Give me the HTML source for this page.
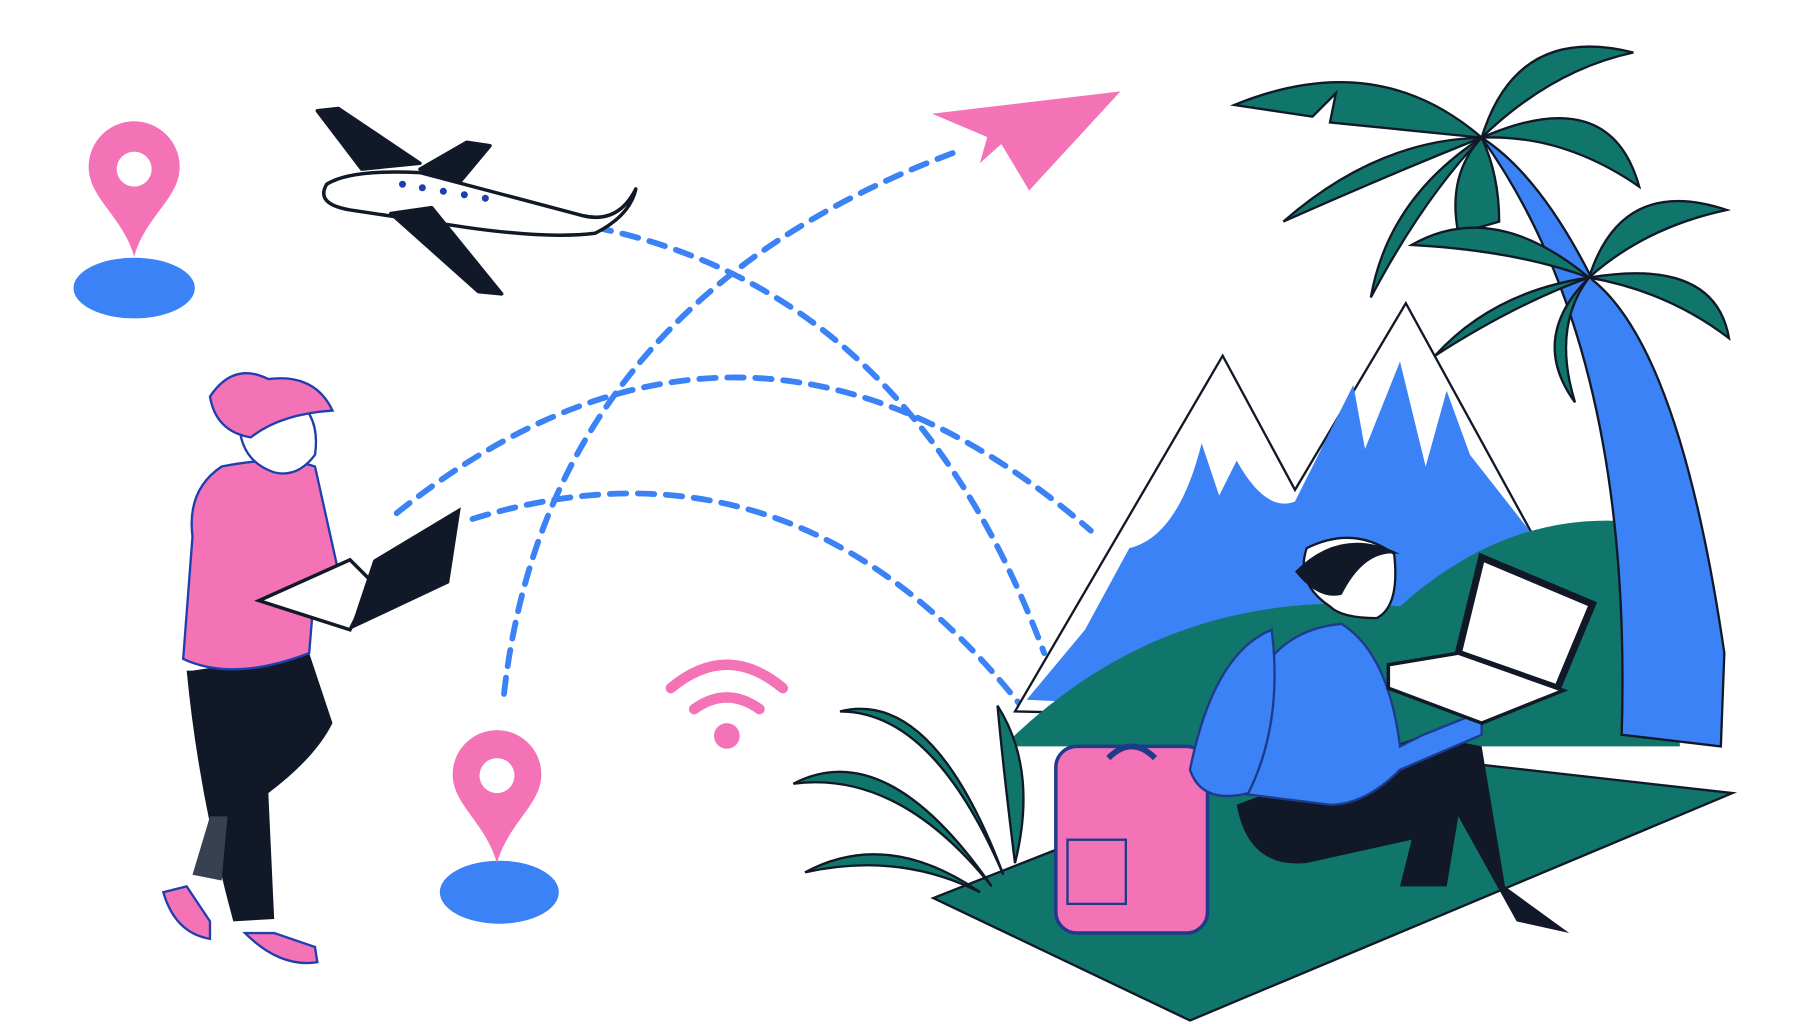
<!DOCTYPE html>
<html><head><meta charset="utf-8"><style>
html,body{margin:0;padding:0;background:#fff;width:1820px;height:1024px;overflow:hidden}
svg{display:block}
</style></head><body>
<svg width="1820" height="1024" viewBox="0 0 1560 878" preserveAspectRatio="none" xmlns="http://www.w3.org/2000/svg">
<g fill="none" stroke="#3b82f6" stroke-width="5" stroke-dasharray="14 10" stroke-linecap="round">
<path d="M510 195 Q780 250 895 560"/>
<path d="M432 595 Q470 260 820 130"/>
<path d="M340 440 Q640 200 935 455"/>
<path d="M405 445 Q680 360 875 605"/>
</g>
<!-- pins -->
<ellipse cx="115" cy="247" rx="52" ry="26" fill="#3b82f6"/>
<path d="M115 220 C105 185 76 170 76 143 A39 39 0 0 1 154 143 C154 170 125 185 115 220Z" fill="#f472b6"/>
<circle cx="115" cy="145" r="15" fill="#fff"/>
<ellipse cx="428" cy="765" rx="51" ry="27" fill="#3b82f6"/>
<path d="M426 740 C416 705 388 690 388 664 A38 38 0 0 1 464 664 C464 690 436 705 426 740Z" fill="#f472b6"/>
<circle cx="426" cy="665" r="15" fill="#fff"/>
<!-- wifi -->
<g fill="none" stroke="#f472b6" stroke-width="9" stroke-linecap="round">
<path d="M575 590 Q623 550 671 590"/><path d="M595 608 Q623 588 651 608"/>
</g>
<circle cx="623" cy="631" r="11" fill="#f472b6"/>
<!-- paper plane -->
<polygon points="795,97 963,77 882,165 858,125 838,143 845,118" fill="#f472b6" stroke="#fff" stroke-width="2"/>
<!-- airplane -->
<g stroke="#111827" stroke-width="3" stroke-linejoin="round">
<polygon points="272,95 290,93 360,140 310,145" fill="#111827"/>
<polygon points="360,145 400,122 420,125 395,155" fill="#111827"/>
<path d="M280 158 Q300 145 360 148 L500 185 Q530 192 545 162 Q540 185 510 200 Q470 205 400 195 L300 180 Q270 175 280 158Z" fill="#fff"/>
<polygon points="335,183 370,178 430,252 410,250" fill="#111827"/>
</g>
<g fill="#1e40af"><circle cx="345" cy="158" r="3"/><circle cx="362" cy="161" r="3"/><circle cx="380" cy="164" r="3"/><circle cx="398" cy="167" r="3"/><circle cx="416" cy="170" r="3"/></g>
<!-- mountains -->
<path d="M870 610 L1048 305 L1110 420 L1205 260 L1320 470 L1320 620Z" fill="#fff" stroke="#111827" stroke-width="2"/>
<path d="M880 600 L930 540 L968 470 Q1010 460 1030 380 L1045 425 L1060 395 Q1085 440 1110 430 L1160 330 L1170 385 L1200 310 L1222 400 L1240 335 L1260 390 L1315 460 L1320 620Z" fill="#3b82f6"/>
<!-- ground -->
<path d="M860 640 Q1000 500 1200 520 Q1300 430 1420 450 L1440 640Z" fill="#10766b"/>
<polygon points="800,770 1130,640 1485,680 1020,875" fill="#10766b" stroke="#111827" stroke-width="2"/>
<!-- palms -->
<path d="M1270 118 Q1400 300 1390 630 L1475 640 L1478 560 Q1440 300 1365 240 Q1320 150 1270 118Z" fill="#3b82f6" stroke="#111827" stroke-width="2"/>
<g fill="#10766b" stroke="#111827" stroke-width="2">
<path d="M1270 118 Q1180 40 1058 90 L1125 100 L1145 80 L1140 105 Z"/>
<path d="M1270 118 Q1300 20 1400 45 Q1330 60 1270 118Z"/>
<path d="M1270 118 Q1380 70 1405 160 Q1340 115 1270 118Z"/>
<path d="M1270 118 Q1180 120 1100 190 Q1190 150 1270 118Z"/>
<path d="M1270 118 Q1190 170 1175 255 Q1220 170 1270 118Z"/>
<path d="M1270 118 Q1240 150 1250 200 L1285 190 Q1285 150 1270 118Z"/>
<path d="M1362 238 Q1280 170 1210 210 Q1300 215 1362 238Z"/>
<path d="M1362 238 Q1390 150 1480 180 Q1410 195 1362 238Z"/>
<path d="M1362 238 Q1470 220 1482 290 Q1430 250 1362 238Z"/>
<path d="M1362 238 Q1280 250 1230 305 Q1300 260 1362 238Z"/>
<path d="M1362 238 Q1310 290 1350 345 Q1330 280 1362 238Z"/>
</g>
<!-- plant -->
<g fill="#10766b" stroke="#111827" stroke-width="2">
<path d="M860 750 Q800 590 720 610 Q800 610 860 750Z"/>
<path d="M850 760 Q760 630 680 672 Q770 660 850 760Z"/>
<path d="M840 765 Q760 710 690 748 Q770 730 840 765Z"/>
<path d="M870 740 Q860 660 855 605 Q890 660 870 740Z"/>
</g>
<!-- suitcase -->
<rect x="905" y="640" width="130" height="160" rx="18" fill="#f472b6" stroke="#1e3a8a" stroke-width="3"/>
<rect x="915" y="720" width="50" height="55" fill="none" stroke="#1e3a8a" stroke-width="2"/>
<path d="M950 650 Q970 630 990 650" fill="none" stroke="#1e3a8a" stroke-width="5"/>
<!-- man -->
<path d="M1060 690 Q1070 745 1120 740 L1210 720 L1200 760 L1240 760 L1250 700 L1300 790 L1345 800 L1290 760 L1270 640 L1220 630 Z" fill="#111827"/>
<path d="M1070 600 Q1090 540 1150 535 Q1190 560 1200 640 L1220 630 L1270 610 L1270 630 L1200 660 Q1170 690 1140 690 L1060 680 Z" fill="#3b82f6" stroke="#1e3a8a" stroke-width="2"/>
<path d="M1020 660 Q1040 560 1090 540 Q1100 620 1070 680 Q1030 690 1020 660Z" fill="#3b82f6" stroke="#1e3a8a" stroke-width="2"/>
<path d="M1120 470 Q1160 450 1195 475 Q1200 520 1180 530 Q1150 530 1140 520 Q1110 500 1120 470Z" fill="#fff" stroke="#111827" stroke-width="2"/>
<path d="M1110 490 Q1150 450 1200 475 Q1170 470 1150 510 Q1130 515 1110 490Z" fill="#111827"/>
<polygon points="1270,478 1365,518 1335,590 1250,560" fill="#fff" stroke="#111827" stroke-width="6"/>
<polygon points="1190,570 1250,560 1340,592 1270,620 1190,590" fill="#fff" stroke="#111827" stroke-width="3"/>
<!-- woman -->
<path d="M165 575 L160 575 Q170 680 200 790 L235 788 L230 680 Q270 650 285 620 L265 560 Z" fill="#111827"/>
<path d="M180 700 L165 750 L190 755 L195 700Z" fill="#374151"/>
<path d="M140 765 Q150 800 180 805 L180 790 L160 760Z" fill="#f472b6" stroke="#1e40af" stroke-width="2"/>
<path d="M210 800 Q240 830 272 825 L270 812 L235 800Z" fill="#f472b6" stroke="#1e40af" stroke-width="2"/>
<path d="M190 400 Q160 420 165 460 L157 565 Q200 585 265 560 L270 500 L290 490 L270 400 Q240 390 190 400Z" fill="#f472b6" stroke="#1e40af" stroke-width="2"/>
<path d="M205 360 Q215 330 250 340 Q275 355 270 390 Q255 410 235 405 Q205 395 205 360Z" fill="#fff" stroke="#1e40af" stroke-width="2"/>
<path d="M180 340 Q200 310 230 325 Q270 320 285 352 Q240 355 215 375 Q185 370 180 340Z" fill="#f472b6" stroke="#1e40af" stroke-width="2"/>
<polygon points="222,515 300,480 320,500 300,540" fill="#fff" stroke="#111827" stroke-width="3"/>
<polygon points="300,540 320,480 395,435 385,500" fill="#111827"/>
</svg>
</body></html>
